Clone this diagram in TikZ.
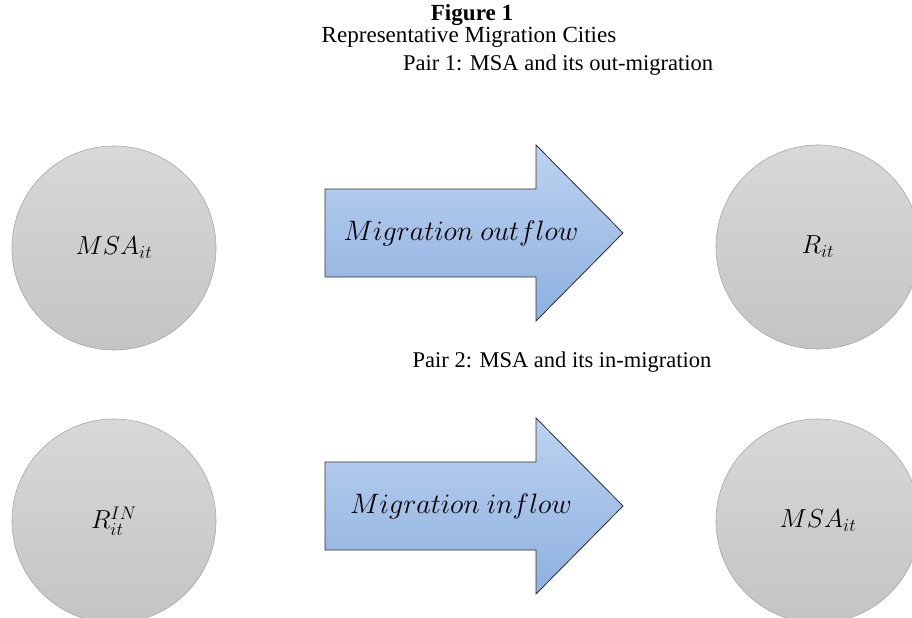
\RequirePackage{fix-cm}
\documentclass[tikz,border=0pt]{standalone}
\usepackage{fontspec}
\setmainfont{Liberation Serif}
\usepackage{amsmath}
\usepackage{tikz}

\definecolor{cityTop}{RGB}{216,216,216}
\definecolor{cityBot}{RGB}{196,196,196}
\definecolor{cityLine}{RGB}{165,165,165}
\definecolor{flowTop}{RGB}{188,210,240}
\definecolor{flowBot}{RGB}{142,176,224}

\tikzset{
  city/.style={circle, draw=cityLine, top color=cityTop, bottom color=cityBot, minimum size=5.1cm, inner sep=0pt, font=\fontsize{18.5}{22}\selectfont},
  flow/.style={draw=black!80, line width=0.6pt, top color=flowTop, bottom color=flowBot},
  flowtext/.style={font=\fontsize{20}{24}\selectfont},
  caption/.style={anchor=base, inner sep=0pt, font=\fontsize{16.4}{19}\selectfont},
  pairtext/.style={anchor=base, inner sep=0pt, font=\fontsize{16}{19}\selectfont}
}

\begin{document}
\begin{tikzpicture}[x=0.025cm, y=-0.025cm]
                            \useasboundingbox (0,0) rectangle (912,617);
                            \clip (0,0) rectangle (912,617);
                            % Titles
                            \node[caption] (fig) at (472,21) {\textbf{Figure 1}};
                            \node[caption] (title) at (469,43) {Representative Migration Cities};
                            \node[pairtext] (pairA) at (558,71) {Pair 1: MSA and its out-migration};
                            \node[pairtext] (pairB) at (562,367) {Pair 2: MSA and its in-migration};
                            % Cities
                            \foreach \name/\x/\y/\lab in {msaA/114/248/{MSA_{it}}, rA/818/247/{R_{it}}, rinB/114/521/{R_{it}^{IN}}, msaB/818/521/{MSA_{it}}} {
                              \node[city] (\name) at (\x,\y) {$\lab$};
                            }
                            % Arrows
                            \foreach \name/\y/\lab in {outflow/233/{Migration\ outflow}, inflow/506/{Migration\ inflow}} {
                              \draw[flow] (325,\y-44) -- (536,\y-44) -- (536,\y-88) -- (623,\y) -- (536,\y+88) -- (536,\y+44) -- (325,\y+44) -- cycle;
                              \node[flowtext] (\name) at (461,\y) {$\lab$};
                            }
                        \end{tikzpicture}
\end{document}
